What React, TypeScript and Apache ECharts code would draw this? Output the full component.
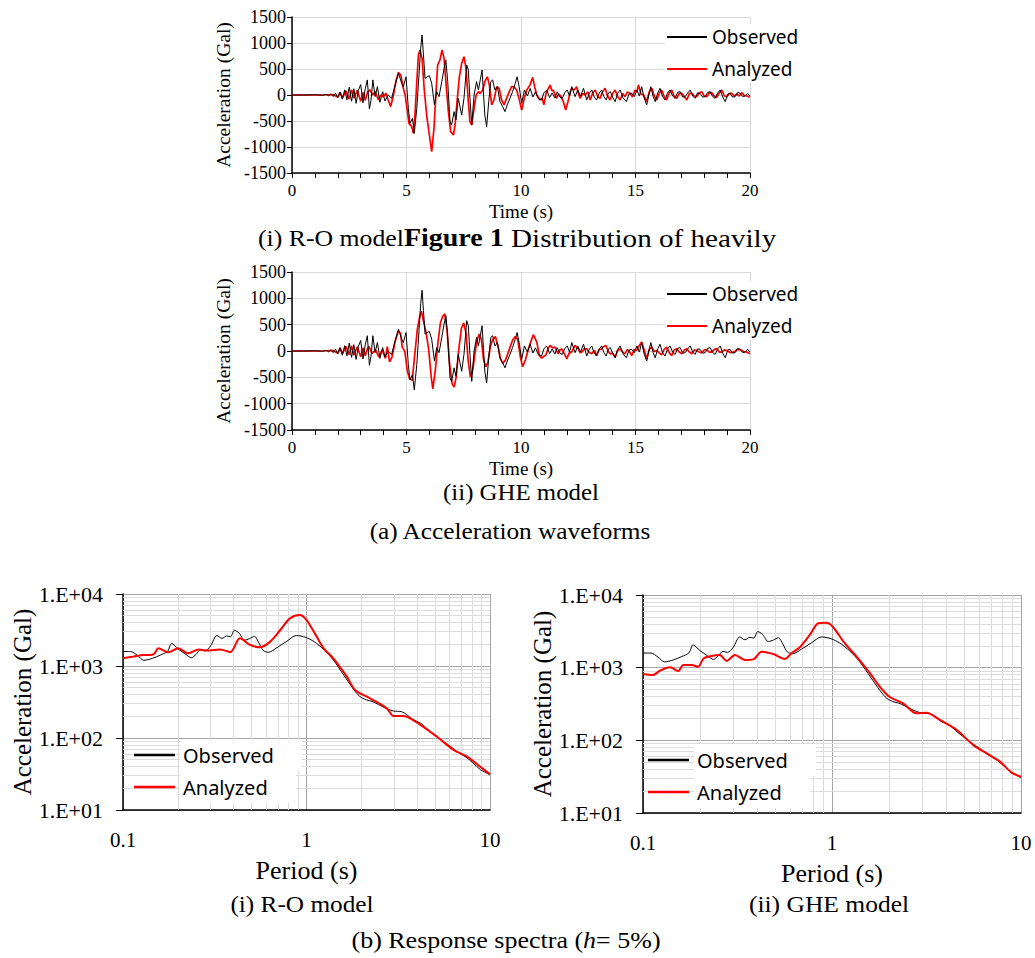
import React, { useEffect, useRef } from "react";
import * as echarts from "echarts";

// ---------- Data ----------
// Acceleration waveforms: [time (s), acceleration (Gal)]
const waveObserved: number[][] = [
  [0, 0], [0.5, 0], [1.0, 5], [1.3, -5], [1.5, 10], [1.6, -15], [1.7, 20], [1.8, -30], [1.9, 35], [2.0, -50],
  [2.1, 60], [2.2, -80], [2.3, 100], [2.4, -90], [2.5, 150], [2.6, -120], [2.7, 120], [2.8, -160], [2.9, 90], [3.0, 200],
  [3.1, -150], [3.2, 120], [3.29, 290], [3.38, -270], [3.45, -100], [3.53, 290], [3.63, -30], [3.73, 160], [3.84, -140], [3.96, 64],
  [4.06, -115], [4.2, 0], [4.35, -64], [4.5, 190], [4.65, 417], [4.79, 224], [4.86, 160], [4.98, 350], [5.08, -256], [5.15, -545],
  [5.26, -450], [5.34, -737], [5.45, -256], [5.55, 417], [5.62, 900], [5.68, 1154], [5.74, 770], [5.81, 320], [5.91, 353], [6.0, 370],
  [6.1, 224], [6.22, -190], [6.32, 64], [6.42, -32], [6.54, 256], [6.64, 510], [6.72, 670], [6.8, 256], [6.9, -510], [6.97, -577],
  [7.08, -320], [7.16, -480], [7.26, -64], [7.41, -385], [7.51, -64], [7.63, 577], [7.7, 480], [7.77, -64], [7.85, -577], [7.95, 0],
  [8.06, 256], [8.14, 96], [8.3, 480], [8.42, -385], [8.5, -610], [8.59, -128], [8.68, 256], [8.76, 290], [8.86, 96], [8.97, 160],
  [9.08, -128], [9.2, -224], [9.3, -320], [9.4, -190], [9.52, -64], [9.63, 64], [9.75, 224], [9.83, 350], [9.92, 160], [10.03, -160],
  [10.15, 96], [10.28, -20], [10.4, 128], [10.52, -40], [10.63, 60], [10.76, -70], [10.9, -96], [11.0, 40], [11.12, 96], [11.25, -50],
  [11.36, 40], [11.48, -60], [11.58, 64], [11.7, -40], [11.8, -64], [11.92, 50], [12.02, 96], [12.12, -20], [12.22, 160], [12.36, -32],
  [12.48, 96], [12.6, -20], [12.73, 128], [12.87, -96], [12.98, 30], [13.09, 96], [13.2, -40], [13.3, -96], [13.42, 40], [13.52, 96],
  [13.62, -30], [13.72, -96], [13.82, 40], [13.9, 64], [14.0, -40], [14.11, -128], [14.22, 30], [14.33, 96], [14.45, -50], [14.6, -128],
  [14.72, 20], [14.84, 32], [14.95, -30], [15.06, 96], [15.17, -20], [15.27, 160], [15.38, -60], [15.49, -192], [15.58, 0], [15.67, 160],
  [15.77, -30], [15.86, -128], [15.97, 40], [16.07, 128], [16.18, -30], [16.29, -96], [16.4, 40], [16.51, 96], [16.62, -20], [16.73, -64],
  [16.84, 50], [16.95, 64], [17.06, -40], [17.17, -32], [17.28, 40], [17.39, 96], [17.5, -20], [17.6, -64], [17.71, 40], [17.82, 32],
  [17.93, -40], [18.04, -32], [18.15, 50], [18.26, 64], [18.37, -30], [18.48, -64], [18.59, 40], [18.7, 96], [18.81, -40], [18.92, -128],
  [19.03, 20], [19.13, 32], [19.24, -40], [19.35, -32], [19.46, 50], [19.57, 32], [19.68, -30], [19.79, -19], [19.9, 30], [20, -19],
];

const waveAnalyzedRO: number[][] = [
  [0, 0], [0.5, 0], [1.0, 0], [1.5, 5], [1.8, 10], [1.9, -20], [2.0, -40], [2.1, 50], [2.2, -60], [2.35, 80],
  [2.5, -80], [2.6, 100], [2.7, -60], [2.85, 90], [3.0, -120], [3.1, 50], [3.2, -100], [3.3, 60], [3.41, 96], [3.53, 0],
  [3.63, 64], [3.78, -96], [3.87, 0], [3.99, -32], [4.1, 32], [4.2, -96], [4.31, -224], [4.43, 0], [4.55, 290], [4.65, 436],
  [4.75, 385], [4.86, 128], [4.94, 0], [5.01, -224], [5.11, -545], [5.23, -610], [5.3, -737], [5.37, -385], [5.45, 256], [5.52, 770],
  [5.59, 865], [5.68, 705], [5.77, 128], [5.88, -385], [6.0, -770], [6.1, -1090], [6.2, -640], [6.29, 64], [6.36, 577], [6.46, 670],
  [6.55, 865], [6.64, 705], [6.72, 256], [6.83, -320], [6.93, -705], [7.05, -770], [7.12, -577], [7.22, -64], [7.31, 353], [7.41, 610],
  [7.51, 737], [7.6, 510], [7.69, -64], [7.77, -510], [7.85, -577], [7.95, -256], [8.04, 0], [8.14, 64], [8.21, 32], [8.33, 96],
  [8.42, 256], [8.53, 350], [8.62, 190], [8.72, -190], [8.82, -96], [8.94, 160], [9.05, 128], [9.15, -96], [9.26, -190], [9.37, -64],
  [9.49, 64], [9.59, 160], [9.69, 160], [9.81, 96], [9.91, -64], [10.03, -290], [10.15, -50], [10.25, 96], [10.4, 200], [10.51, 340],
  [10.6, 150], [10.69, 0], [10.83, -96], [10.92, -60], [11.0, -190], [11.1, 40], [11.27, 192], [11.35, 80], [11.41, 96], [11.5, -20],
  [11.56, -64], [11.63, 20], [11.7, 0], [11.78, -60], [11.85, -128], [11.95, -290], [12.07, -96], [12.15, 60], [12.21, 128], [12.32, 96],
  [12.43, 160], [12.5, 40], [12.58, -64], [12.7, 30], [12.8, 0], [12.92, 60], [13.02, -96], [13.12, 30], [13.24, 96], [13.35, -30],
  [13.45, -64], [13.56, 60], [13.67, 128], [13.78, -20], [13.89, -96], [14.0, 30], [14.11, 96], [14.22, -30], [14.33, -96], [14.44, 30],
  [14.54, -32], [14.65, 60], [14.76, 32], [14.87, -40], [14.98, 96], [15.06, 60], [15.13, 192], [15.24, 20], [15.35, 0], [15.42, -60],
  [15.49, -128], [15.6, 60], [15.71, 128], [15.82, -20], [15.93, -96], [16.04, 40], [16.14, 96], [16.25, -30], [16.36, -96], [16.47, 40],
  [16.58, 96], [16.69, -20], [16.8, -64], [16.91, 30], [17.02, 32], [17.13, -30], [17.24, -96], [17.35, 30], [17.46, 32], [17.57, -20],
  [17.67, -32], [17.78, 40], [17.89, 64], [18.0, -20], [18.11, -32], [18.22, 40], [18.33, 45], [18.44, -20], [18.55, -45], [18.66, 40],
  [18.77, 96], [18.88, -20], [18.99, -32], [19.1, 30], [19.2, 32], [19.31, -20], [19.42, 19], [19.53, -20], [19.64, 45], [19.75, -10],
  [19.86, -19], [20, -45],
];

const waveAnalyzedGHE: number[][] = [
  [0, 0], [0.5, 0], [1.0, 0], [1.5, 5], [1.8, 10], [1.9, -20], [2.0, -40], [2.1, 60], [2.2, -50], [2.35, 90],
  [2.5, -70], [2.6, 100], [2.7, -80], [2.85, 80], [3.0, -110], [3.1, 60], [3.2, -90], [3.3, 50], [3.36, 83], [3.5, -45],
  [3.65, 20], [3.79, -110], [3.94, 20], [4.08, -141], [4.16, 83], [4.26, -205], [4.37, -110], [4.52, 210], [4.64, 372], [4.74, 340],
  [4.81, 83], [4.93, -13], [5.03, -365], [5.13, -525], [5.25, -558], [5.35, -110], [5.47, 404], [5.58, 660], [5.65, 756], [5.76, 532],
  [5.86, 340], [5.97, 20], [6.08, -494], [6.15, -718], [6.26, -365], [6.37, 147], [6.48, 532], [6.58, 660], [6.67, 705], [6.77, 404],
  [6.88, -237], [6.99, -622], [7.08, -686], [7.17, -494], [7.28, 20], [7.4, 436], [7.5, 532], [7.6, 340], [7.69, -173], [7.79, -494],
  [7.89, -365], [7.98, -77], [8.08, 212], [8.18, 320], [8.27, 212], [8.37, -173], [8.47, -300], [8.56, -205], [8.66, 83], [8.76, 212],
  [8.88, 275], [9.0, 83], [9.1, -141], [9.2, -237], [9.32, -173], [9.43, -45], [9.53, 83], [9.64, 212], [9.75, 275], [9.86, 212],
  [9.97, -109], [10.07, -300], [10.19, -170], [10.3, 0], [10.42, 169], [10.54, 309], [10.69, 169], [10.8, -86], [10.9, -137], [11.0, -100],
  [11.09, -73], [11.18, 40], [11.27, 105], [11.38, 60], [11.49, 73], [11.56, 0], [11.63, -54], [11.7, 20], [11.78, 41], [11.9, -60],
  [12.0, -150], [12.1, -40], [12.21, -22], [12.3, 60], [12.36, 105], [12.5, 41], [12.58, -30], [12.65, -22], [12.76, 40], [12.87, 41],
  [12.98, -30], [13.09, -54], [13.2, 10], [13.3, -86], [13.4, 20], [13.52, 41], [13.6, 80], [13.71, 105], [13.8, 0], [13.89, -54],
  [14.0, -40], [14.11, -118], [14.22, 10], [14.33, 41], [14.44, -20], [14.54, -54], [14.65, 30], [14.74, -20], [14.84, -86], [14.95, 30],
  [15.06, 10], [15.16, 100], [15.27, 169], [15.38, 20], [15.49, -150], [15.6, 30], [15.71, 73], [15.82, -10], [15.93, 10], [16.04, -40],
  [16.14, -73], [16.25, 30], [16.36, 73], [16.47, -30], [16.58, -86], [16.69, 20], [16.8, 41], [16.91, -20], [17.02, -54], [17.13, 20],
  [17.24, 41], [17.35, -20], [17.46, -54], [17.57, 20], [17.67, 10], [17.78, -20], [17.89, -35], [18.0, 20], [18.11, 29], [18.22, -20],
  [18.33, -22], [18.44, 30], [18.55, 41], [18.66, -20], [18.77, -22], [18.88, 20], [18.99, 10], [19.13, -30], [19.28, -22], [19.42, 20],
  [19.57, 29], [19.72, -10], [19.86, -22], [20, -54],
];

// Response spectra (h = 5%): [period (s), acceleration (Gal)]
const specObserved: number[][] = [
  [0.1, 1590], [0.11, 1590], [0.12, 1400], [0.13, 1200], [0.145, 1280], [0.16, 1420], [0.175, 1600], [0.184, 2060], [0.2, 1720], [0.22, 1450],
  [0.236, 1300], [0.25, 1450], [0.265, 1680], [0.28, 1620], [0.3, 1900], [0.325, 2650], [0.346, 2420], [0.368, 2620], [0.385, 2550], [0.405, 3140],
  [0.43, 2850], [0.46, 2290], [0.49, 2400], [0.52, 2580], [0.55, 2100], [0.58, 1650], [0.62, 1550], [0.69, 1800], [0.78, 2200], [0.88, 2650],
  [0.99, 2500], [1.1, 2180], [1.24, 1700], [1.4, 1210], [1.6, 740], [1.8, 480], [1.95, 378], [2.13, 337], [2.3, 320], [2.65, 265],
  [2.98, 237], [3.3, 232], [3.8, 181], [4.2, 160], [4.6, 130], [5.2, 102], [5.6, 88], [6.1, 76], [6.6, 65], [7.5, 53],
  [8.0, 46], [8.9, 36], [9.3, 34], [10, 30.6],
];

const specAnalyzedRO: number[][] = [
  [0.1, 1280], [0.114, 1350], [0.129, 1420], [0.14, 1420], [0.148, 1480], [0.156, 1760], [0.176, 1550], [0.2, 1760], [0.227, 1500], [0.258, 1700],
  [0.286, 1640], [0.338, 1700], [0.384, 1560], [0.434, 2420], [0.493, 1960], [0.558, 1820], [0.634, 2180], [0.72, 3160], [0.813, 4590], [0.922, 5100],
  [1.0, 4350], [1.11, 2840], [1.24, 1760], [1.4, 1280], [1.66, 711], [1.84, 465], [2.22, 356], [2.74, 258], [2.98, 202], [3.38, 202],
  [4.17, 152], [5.14, 104], [6.36, 68], [7.5, 55], [9.23, 36.7], [10, 31.6],
];

const specAnalyzedGHE: number[][] = [
  [0.1, 818], [0.113, 793], [0.123, 910], [0.139, 1010], [0.154, 900], [0.163, 1090], [0.181, 1090], [0.196, 1030], [0.209, 1340], [0.231, 1450],
  [0.255, 1490], [0.277, 1240], [0.307, 1490], [0.346, 1280], [0.383, 1300], [0.424, 1660], [0.489, 1540], [0.564, 1320], [0.61, 1580], [0.676, 1910],
  [0.763, 2820], [0.847, 4080], [0.935, 4150], [1.01, 3660], [1.15, 2280], [1.35, 1420], [1.59, 836], [1.79, 548], [2.03, 391], [2.38, 323],
  [2.8, 235], [3.16, 240], [3.72, 191], [4.57, 139], [5.6, 86], [6.58, 66], [7.74, 51], [8.92, 36], [10, 31.6],
];

const seriesNames = ["Observed", "Analyzed"];
const minorMultipliers = [2, 3, 4, 5, 6, 7, 8, 9];
const periodDecades = [0.1, 1];
const accelDecades = [10, 100, 1000];

// ---------- Styling ----------
const serif = "'Liberation Serif', 'Times New Roman', serif";
const sans = "'Noto Sans', 'DejaVu Sans', sans-serif";
const RED = "#ff0000";
const BLACK = "#000000";

function waveX(gridIndex: number) {
  return {
    type: "value",
    gridIndex,
    min: 0,
    max: 20,
    interval: 5,
    axisLine: { onZero: false, lineStyle: { color: BLACK, width: 1.5 } },
    axisTick: { show: true, length: 5, lineStyle: { color: BLACK } },
    minorTick: { show: true, splitNumber: 5, length: 5, lineStyle: { color: BLACK } },
    splitLine: { show: true, lineStyle: { color: "#d9d9d9" } },
    axisLabel: { color: BLACK, fontFamily: serif, fontSize: 17, margin: 9, formatter: (v: number) => String(v) },
    name: "Time (s)",
    nameLocation: "middle",
    nameGap: 29,
    nameTextStyle: { color: BLACK, fontFamily: serif, fontSize: 19 },
  };
}

function waveY(gridIndex: number) {
  return {
    type: "value",
    gridIndex,
    min: -1500,
    max: 1500,
    interval: 500,
    axisLine: { show: true, lineStyle: { color: BLACK, width: 1.5 } },
    axisTick: { show: true, length: 5, lineStyle: { color: BLACK } },
    splitLine: { show: true, lineStyle: { color: "#d9d9d9" } },
    axisLabel: { color: BLACK, fontFamily: serif, fontSize: 18, margin: 6, formatter: (v: number) => String(v) },
    name: "Acceleration (Gal)",
    nameLocation: "middle",
    nameGap: 59,
    nameTextStyle: { color: BLACK, fontFamily: serif, fontSize: 19.5 },
  };
}

function specX(gridIndex: number) {
  return {
    type: "log",
    logBase: 10,
    gridIndex,
    min: 0.1,
    max: 10,
    axisLine: { onZero: false, lineStyle: { color: BLACK, width: 1.5 } },
    axisTick: { show: false },
    splitLine: { show: true, lineStyle: { color: "#a6a6a6" } },
    axisLabel: {
      color: BLACK,
      fontFamily: serif,
      fontSize: 21,
      margin: 19,
      formatter: (v: number) => String(Number(v.toPrecision(1))),
    },
    name: "Period (s)",
    nameLocation: "middle",
    nameGap: 47,
    nameTextStyle: { color: BLACK, fontFamily: serif, fontSize: 26 },
  };
}

function specY(gridIndex: number) {
  return {
    type: "log",
    logBase: 10,
    gridIndex,
    min: 10,
    max: 10000,
    axisLine: { show: true, lineStyle: { color: BLACK, width: 1.5 } },
    axisTick: { show: true, length: 7, lineStyle: { color: BLACK } },
    splitLine: { show: true, lineStyle: { color: "#a6a6a6" } },
    axisLabel: {
      color: BLACK,
      fontFamily: serif,
      fontSize: 22,
      margin: 20,
      formatter: (v: number) => "1.E+" + String(Math.round(Math.log10(v))).padStart(2, "0"),
    },
    name: "Acceleration (Gal)",
    nameLocation: "middle",
    nameGap: 88,
    nameTextStyle: { color: BLACK, fontFamily: serif, fontSize: 25 },
  };
}

function minorGridSeries(index: number) {
  const xs: any[] = [];
  periodDecades.forEach((d) => minorMultipliers.forEach((m) => xs.push({ xAxis: d * m })));
  const ys: any[] = [];
  accelDecades.forEach((d) => minorMultipliers.forEach((m) => ys.push({ yAxis: d * m })));
  return {
    type: "line",
    name: "minor-grid-" + index,
    xAxisIndex: index,
    yAxisIndex: index,
    data: [[0.1, 10]],
    showSymbol: false,
    symbol: "none",
    lineStyle: { opacity: 0 },
    silent: true,
    z: 1,
    markLine: {
      z: 1,
      silent: true,
      symbol: ["none", "none"],
      label: { show: false },
      animation: false,
      lineStyle: { color: "#dcdcdc", type: "solid", width: 1 },
      emphasis: { disabled: true },
      data: [...xs, ...ys],
    },
  };
}

function lineSeries(name: string, index: number, data: number[][], color: string, width: number, z: number, smooth = false) {
  return {
    type: "line",
    name,
    xAxisIndex: index,
    yAxisIndex: index,
    data,
    showSymbol: false,
    symbol: "none",
    smooth: smooth ? 0.3 : false,
    lineStyle: { color, width },
    itemStyle: { color },
    z,
  };
}

function waveLegend(left: number, top: number) {
  return {
    data: seriesNames,
    orient: "vertical",
    left,
    top,
    selectedMode: false,
    icon: "rect",
    itemWidth: 40,
    itemHeight: 2,
    itemGap: 10,
    backgroundColor: "#ffffff",
    padding: [2, 2, 2, 2],
    z: 6,
    textStyle: { color: BLACK, fontFamily: sans, fontSize: 19, lineHeight: 22 },
  };
}

function specLegend(left: number, top: number) {
  return {
    data: seriesNames,
    orient: "vertical",
    left,
    top,
    selectedMode: false,
    icon: "rect",
    itemWidth: 41,
    itemHeight: 2.5,
    itemGap: 0,
    padding: 0,
    z: 6,
    textStyle: {
      color: BLACK,
      fontFamily: sans,
      fontSize: 20,
      lineHeight: 22,
      backgroundColor: "#ffffff",
      padding: [5, 28, 5, 3],
    },
  };
}

function caption(text: string, x: number, y: number, scaleX: number) {
  return {
    type: "text",
    x,
    y,
    scaleX,
    style: { text, font: `23px ${serif}`, fill: BLACK, align: "center", verticalAlign: "middle" },
  };
}

export default function App() {
  const ref = useRef<HTMLDivElement>(null);

  useEffect(() => {
    document.body.style.margin = "0";
    if (!ref.current) return;
    const chart = echarts.init(ref.current, undefined, { renderer: "svg" });

    const option: any = {
      animation: false,
      backgroundColor: "#ffffff",
      grid: [
        { left: 292, top: 17, width: 458, height: 156 },
        { left: 292, top: 272, width: 458, height: 158 },
        { left: 123, top: 594, width: 367, height: 216 },
        { left: 643, top: 595, width: 378, height: 218 },
      ],
      xAxis: [waveX(0), waveX(1), specX(2), specX(3)],
      yAxis: [waveY(0), waveY(1), specY(2), specY(3)],
      legend: [
        waveLegend(665, 24),
        waveLegend(665, 281),
        specLegend(134, 739),
        specLegend(648, 744),
      ],
      series: [
        lineSeries("Analyzed", 0, waveAnalyzedRO, RED, 1.7, 3),
        lineSeries("Observed", 0, waveObserved, BLACK, 1, 4),
        lineSeries("Analyzed", 1, waveAnalyzedGHE, RED, 1.7, 3),
        lineSeries("Observed", 1, waveObserved, BLACK, 1, 4),
        minorGridSeries(2),
        lineSeries("Observed", 2, specObserved, BLACK, 1, 3, true),
        lineSeries("Analyzed", 2, specAnalyzedRO, RED, 2, 4, true),
        minorGridSeries(3),
        lineSeries("Observed", 3, specObserved, BLACK, 1, 3, true),
        lineSeries("Analyzed", 3, specAnalyzedGHE, RED, 2, 4, true),
      ],
      graphic: [
        {
          type: "text",
          x: 258,
          y: 238,
          scaleX: 1.12,
          style: {
            text: "{a|(i) R-O model}{b|Figure 1}{c| Distribution of heavily}",
            verticalAlign: "middle",
            rich: {
              a: { fontFamily: serif, fontSize: 23, fill: BLACK },
              b: { fontFamily: serif, fontSize: 25, fontWeight: "bold", fill: BLACK },
              c: { fontFamily: serif, fontSize: 26, fill: BLACK },
            },
          },
        },
        caption("(ii) GHE model", 521, 492, 1.08),
        caption("(a) Acceleration waveforms", 510, 531, 1.1),
        caption("(i) R-O model", 302, 904, 1.1),
        caption("(ii) GHE model", 829, 904, 1.11),
        {
          type: "text",
          x: 506,
          y: 940,
          scaleX: 1.13,
          style: {
            text: "{a|(b) Response spectra (}{i|h}{a|= 5%)}",
            align: "center",
            verticalAlign: "middle",
            rich: {
              a: { fontFamily: serif, fontSize: 23, fill: BLACK },
              i: { fontFamily: serif, fontSize: 23, fontStyle: "italic", fill: BLACK },
            },
          },
        },
      ],
    };

    chart.setOption(option);
    return () => chart.dispose();
  }, []);

  return <div ref={ref} style={{ width: 1035, height: 958 }} />;
}
